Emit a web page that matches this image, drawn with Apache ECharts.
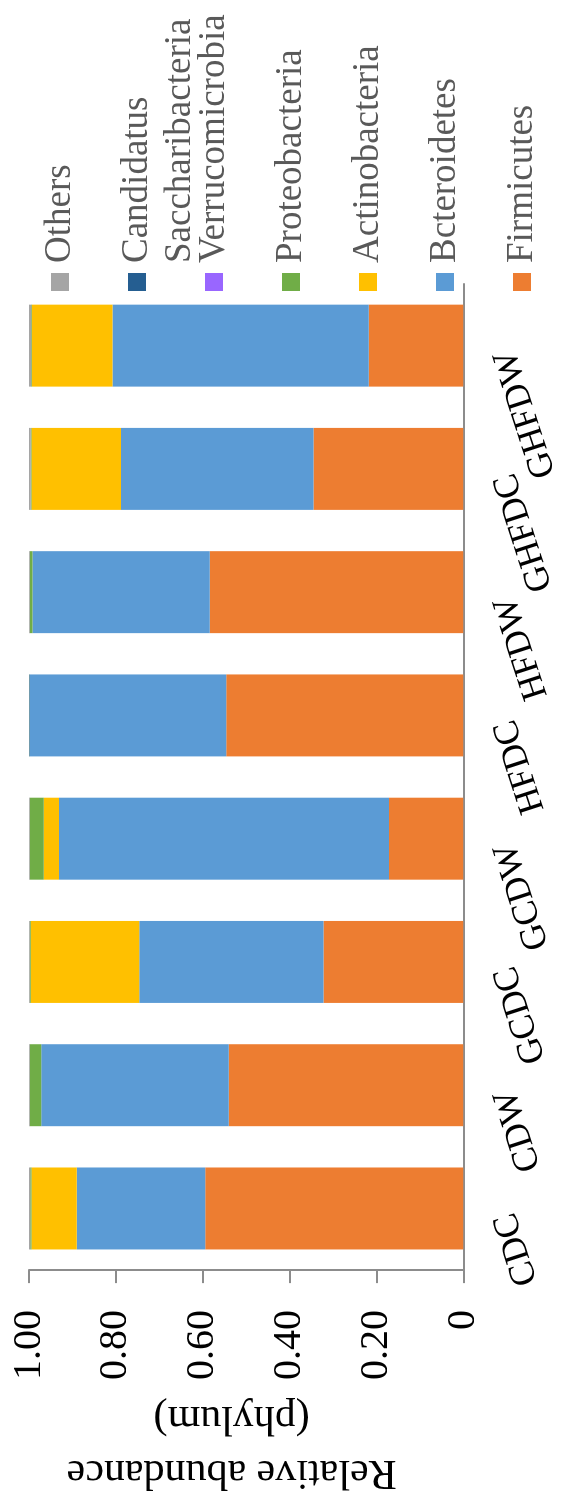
<!DOCTYPE html>
<html>
<head>
<meta charset="utf-8">
<script src="https://cdn.jsdelivr.net/npm/echarts@6/dist/echarts.min.js"></script>
<style>
  html, body { margin: 0; padding: 0; width: 564px; height: 1507px; overflow: hidden; background: #fff; }
  /* The chart is laid out as an ordinary column chart, then turned a quarter-turn counter-clockwise */
  #chart {
    position: absolute; left: 0; top: 0;
    width: 1507px; height: 564px;
    transform-origin: 0 0;
    transform: translate(0, 1507px) rotate(-90deg);
  }
</style>
</head>
<body>
<div id="chart"></div>
<script>
// Samples
const categories = ['CDC', 'CDW', 'GCDC', 'GCDW', 'HFDC', 'HFDW', 'GHFDC', 'GHFDW'];

// Relative abundance of each phylum per sample
const firmicutes      = [0.594, 0.540, 0.322, 0.171, 0.546, 0.584, 0.345, 0.218];
const bacteroidetes   = [0.296, 0.432, 0.424, 0.760, 0.452, 0.408, 0.443, 0.590];
const actinobacteria  = [0.104, 0.000, 0.250, 0.035, 0.000, 0.000, 0.206, 0.185];
const proteobacteria  = [0.003, 0.026, 0.002, 0.032, 0.001, 0.006, 0.002, 0.002];
const verrucomicrobia = [0.000, 0.000, 0.000, 0.000, 0.000, 0.000, 0.000, 0.000];
const saccharibacteria = [0.000, 0.000, 0.000, 0.000, 0.001, 0.000, 0.000, 0.000];
const others          = [0.003, 0.002, 0.002, 0.002, 0.000, 0.002, 0.004, 0.005];

// Value-axis tick labels
const valueTicks = [0, 0.2, 0.4, 0.6, 0.8, 1.0];
const valueTickLabels = ['0', '0.20', '0.40', '0.60', '0.80', '1.00'];

const SERIF = '"Times New Roman", "Liberation Serif", serif';

const seriesDefs = [
  { name: 'Firmicutes',      label: 'Firmicutes',     color: '#ED7D31', data: firmicutes },
  { name: 'Bcteroidetes',    label: 'Bcteroidetes',   color: '#5B9BD5', data: bacteroidetes },
  { name: 'Actinobacteria',  label: 'Actinobacteria', color: '#FFC000', data: actinobacteria },
  { name: 'Proteobacteria',  label: 'Proteobacteria', color: '#70AD47', data: proteobacteria },
  { name: 'Verrucomicrobia', label: 'Verrucomicrobia', color: '#9966FF', data: verrucomicrobia },
  // leading blank line keeps the key square level with the first printed line
  { name: 'Candidatus Saccharibacteria', label: '\nCandidatus\nSaccharibacteria', color: '#255E91', data: saccharibacteria },
  { name: 'Others',          label: 'Others',         color: '#A5A5A5', data: others }
];

// Square key with a little extra room before the text
const KEY_ICON = 'path://M0,0h18v18h-18z M23,17.99h0.01v0.01h-0.01z';

// Legend: one entry per component so every key sits on the same pitch
const legendCenters = {
  'Others': 60, 'Candidatus Saccharibacteria': 137, 'Verrucomicrobia': 214,
  'Proteobacteria': 291, 'Actinobacteria': 368, 'Bcteroidetes': 445, 'Firmicutes': 522
};
const LINE_H = 43;
const legends = seriesDefs.map(s => {
  const lines = s.label.split('\n').length;
  return {
    data: [s.name],
    orient: 'vertical',
    left: 1216,
    top: legendCenters[s.name] - (LINE_H * lines) / 2,
    padding: 0,
    itemWidth: 23,
    itemHeight: 18,
    icon: KEY_ICON,
    selectedMode: false,
    formatter: () => s.label,
    textStyle: { fontFamily: SERIF, fontSize: 37, color: '#595959', lineHeight: LINE_H }
  };
});

const chart = echarts.init(document.getElementById('chart'), null, { renderer: 'canvas' });
chart.setOption({
  animation: false,
  backgroundColor: '#ffffff',
  legend: legends,
  grid: { left: 224, right: 284, top: 29, bottom: 98, containLabel: false },
  xAxis: {
    type: 'category',
    data: categories,
    axisLine: { show: true, lineStyle: { color: '#8C8C8C', width: 2 } },
    axisTick: { show: false },
    axisLabel: {
      interval: 0, rotate: 18, margin: 40,
      fontFamily: SERIF, fontSize: 36, color: '#000000',
      padding: [0, 6, 0, 0]
    }
  },
  yAxis: {
    type: 'value',
    min: 0, max: 1, interval: 0.2,
    name: 'Relative abundance\n(phylum)',
    nameLocation: 'middle',
    nameRotate: 90,
    nameGap: 118,
    nameTextStyle: { fontFamily: SERIF, fontSize: 42, color: '#000000', lineHeight: 54, padding: [0, 0, 0, 29] },
    splitLine: { show: false },
    axisLine: { show: true, lineStyle: { color: '#8C8C8C', width: 2 } },
    axisTick: { show: true, length: 13, lineStyle: { color: '#8C8C8C', width: 2 } },
    axisLabel: {
      margin: 40, fontFamily: SERIF, fontSize: 40, color: '#000000',
      formatter: v => {
        const i = valueTicks.findIndex(t => Math.abs(t - v) < 1e-9);
        return i >= 0 ? valueTickLabels[i] : '';
      }
    }
  },
  series: seriesDefs.map(s => ({
    name: s.name,
    type: 'bar',
    stack: 'total',
    barCategoryGap: '33.5%',
    itemStyle: { color: s.color },
    emphasis: { disabled: true },
    data: s.data
  }))
});
</script>
</body>
</html>
